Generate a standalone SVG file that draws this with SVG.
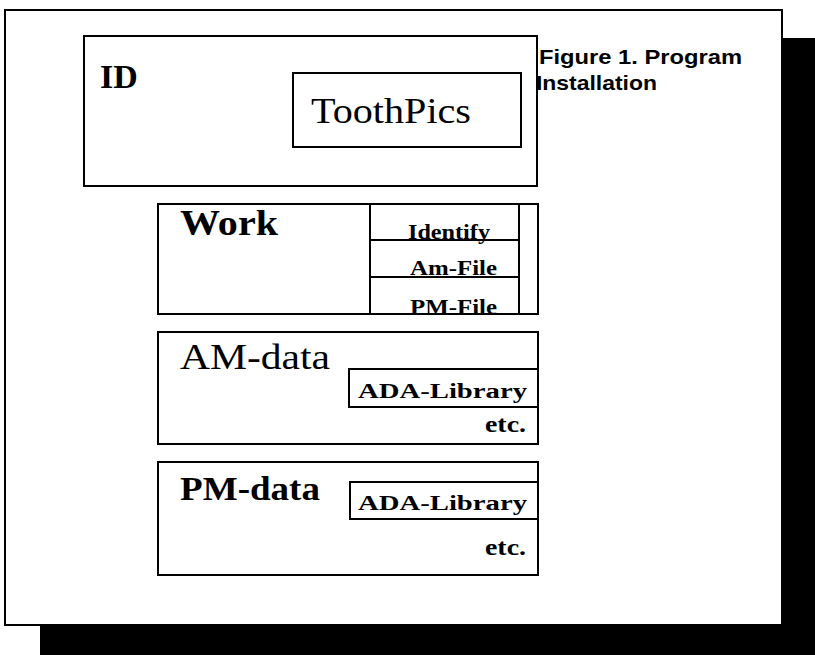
<svg xmlns="http://www.w3.org/2000/svg" width="815" height="655" viewBox="0 0 815 655">
<style>
.box{fill:#fff;stroke:#000;stroke-width:2}
.ln{stroke:#000;stroke-width:2;fill:none}
.tb{font-family:"Liberation Serif",serif;font-weight:bold;fill:#000}
.tr{font-family:"Liberation Serif",serif;fill:#000}
.cap{font-family:"Liberation Sans",Arial,sans-serif;font-weight:bold;fill:#000;font-size:21px}
</style>
<rect x="0" y="0" width="815" height="655" fill="#fff"/>
<g id="frame">
<rect x="40" y="38" width="775" height="617" fill="#000"/>
<rect x="5" y="10" width="777" height="615" class="box"/>
</g>
<g id="caption">
<text class="cap" x="539" y="64" textLength="203" lengthAdjust="spacingAndGlyphs">Figure 1. Program</text>
<text class="cap" x="536" y="90" textLength="121" lengthAdjust="spacingAndGlyphs">Installation</text>
</g>
<g id="id">
<rect x="84" y="36" width="453" height="150" class="box"/>
<text class="tb" x="100" y="88" font-size="34">ID</text>
</g>
<g id="toothpics">
<rect x="293" y="73" width="228" height="74" class="box"/>
<text class="tr" x="311" y="123" font-size="36" textLength="160" lengthAdjust="spacingAndGlyphs">ToothPics</text>
</g>
<g id="work">
<rect x="158" y="204" width="380" height="110" class="box"/>
<text class="tb" x="180" y="235" font-size="36" textLength="98" lengthAdjust="spacingAndGlyphs">Work</text>
</g>
<g id="work-cells">
<line x1="370" y1="204" x2="370" y2="314" class="ln"/>
<line x1="519" y1="204" x2="519" y2="314" class="ln"/>
<line x1="370" y1="240" x2="519" y2="240" class="ln"/>
<line x1="370" y1="277" x2="519" y2="277" class="ln"/>
<text class="tb" x="408" y="239" font-size="20" textLength="82" lengthAdjust="spacingAndGlyphs">Identify</text>
<text class="tb" x="410" y="275" font-size="20" textLength="87" lengthAdjust="spacingAndGlyphs">Am-File</text>
<text class="tb" x="410" y="314" font-size="20" textLength="87" lengthAdjust="spacingAndGlyphs">PM-File</text>
</g>
<g id="am-data">
<rect x="158" y="332" width="380" height="112" class="box"/>
<text class="tr" x="180" y="369" font-size="36" textLength="150" lengthAdjust="spacingAndGlyphs">AM-data</text>
<rect x="349" y="369" width="189" height="38" class="box"/>
<text class="tb" x="358" y="398" font-size="20" textLength="169" lengthAdjust="spacingAndGlyphs">ADA-Library</text>
<text class="tb" x="485" y="432" font-size="23" textLength="41" lengthAdjust="spacingAndGlyphs">etc.</text>
</g>
<g id="pm-data">
<rect x="158" y="462" width="380" height="113" class="box"/>
<text class="tb" x="180" y="500" font-size="34" textLength="140" lengthAdjust="spacingAndGlyphs">PM-data</text>
<rect x="350" y="482" width="188" height="37" class="box"/>
<text class="tb" x="358" y="510" font-size="20" textLength="169" lengthAdjust="spacingAndGlyphs">ADA-Library</text>
<text class="tb" x="485" y="555" font-size="23" textLength="41" lengthAdjust="spacingAndGlyphs">etc.</text>
</g>
<g id="connectors"></g>
</svg>
